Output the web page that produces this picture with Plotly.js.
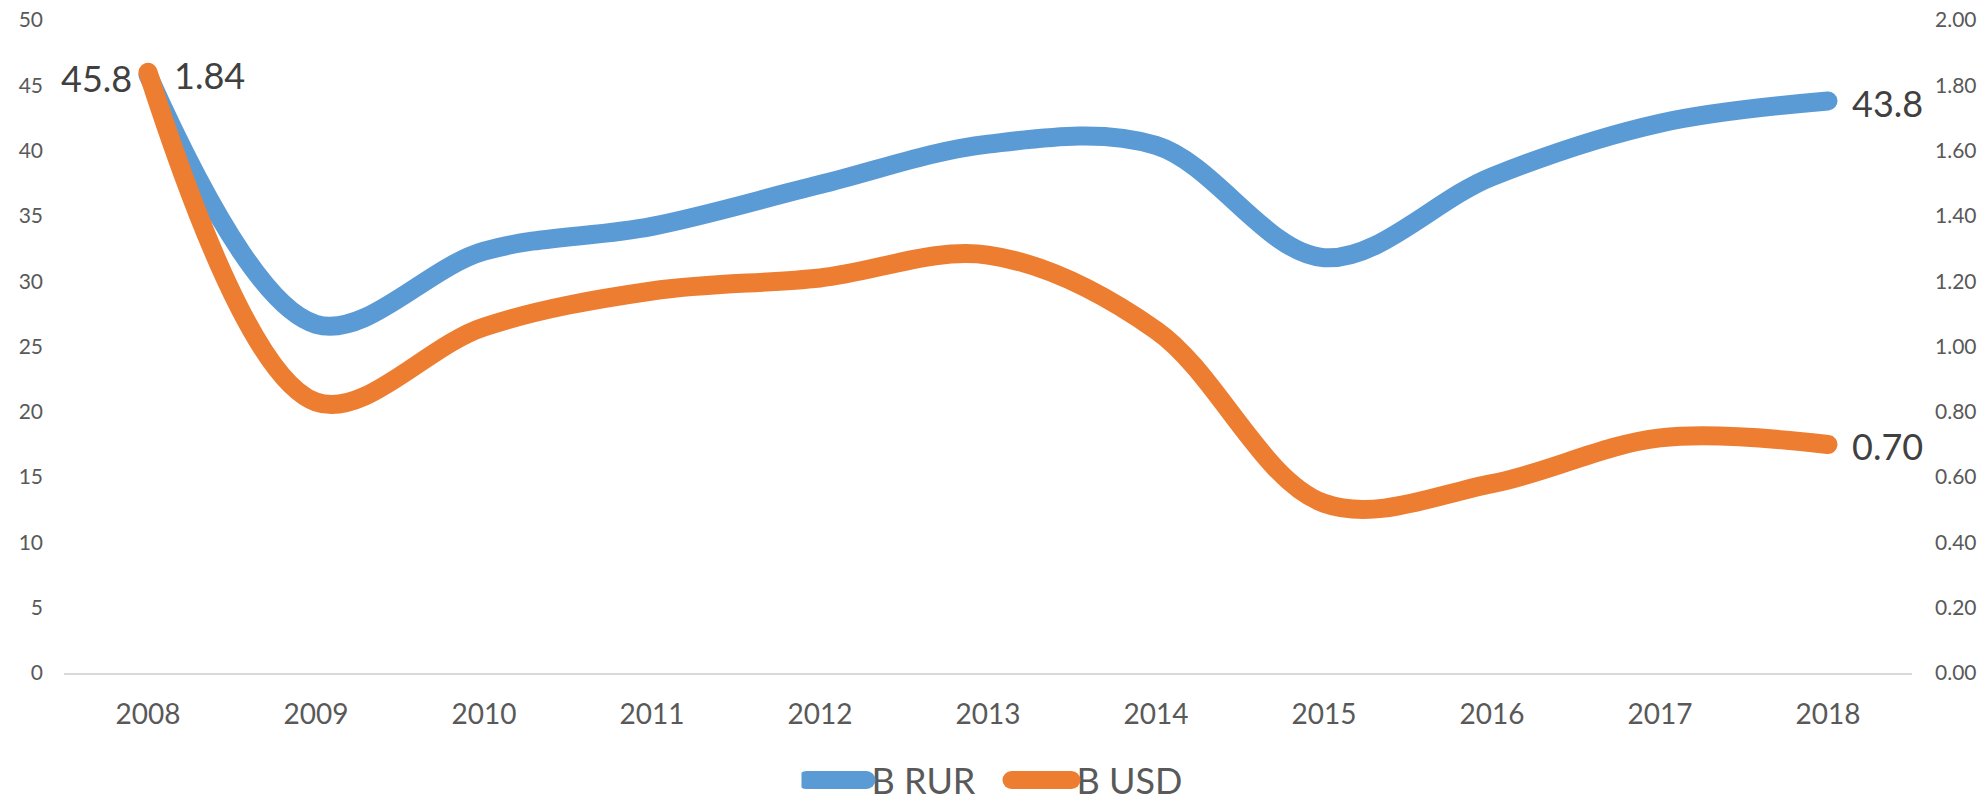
<!DOCTYPE html>
<html>
<head>
<meta charset="utf-8">
<script src="https://cdn.plot.ly/plotly-3.0.1.min.js"></script>
<style>
html,body{margin:0;padding:0;background:#fff;}
#chart{width:1988px;height:801px;}
</style>
</head>
<body>
<div id="chart"></div>
<script>
const years = ['2008','2009','2010','2011','2012','2013','2014','2015','2016','2017','2018'];
const rurValues = [45.8, 26.7, 32.3, 34.2, 37.4, 40.5, 40.4, 31.8, 38.0, 42.1, 43.8];
const usdValues = [1.84, 0.83, 1.06, 1.17, 1.21, 1.28, 1.05, 0.52, 0.58, 0.72, 0.70];
const seriesNames = ['B RUR', 'B USD'];
const leftTicks = [0,5,10,15,20,25,30,35,40,45,50];
const rightTicks = [0,0.2,0.4,0.6,0.8,1.0,1.2,1.4,1.6,1.8,2.0];

const FONT = 'Lato, "Open Sans", sans-serif';
const BLUE = '#5B9BD5';
const ORANGE = '#ED7D31';
const last = years.length - 1;

const traces = [
  {
    x: years, y: rurValues, name: seriesNames[0], type: 'scatter', mode: 'lines',
    line: {color: BLUE, width: 19, shape: 'spline', smoothing: 1},
    yaxis: 'y', hoverinfo: 'skip'
  },
  {
    x: years, y: usdValues, name: seriesNames[1], type: 'scatter', mode: 'lines',
    line: {color: ORANGE, width: 19, shape: 'spline', smoothing: 1},
    yaxis: 'y2', hoverinfo: 'skip'
  }
];

const labelFont = {family: FONT, size: 36, color: '#404040'};
const annotations = [
  {x: 0, y: rurValues[0], xref: 'x', yref: 'y', text: rurValues[0].toFixed(1),
   showarrow: false, xanchor: 'right', yanchor: 'middle', xshift: -14, yshift: -3, font: labelFont},
  {x: 0, y: usdValues[0], xref: 'x', yref: 'y2', text: usdValues[0].toFixed(2),
   showarrow: false, xanchor: 'left', yanchor: 'middle', xshift: 24, yshift: -3, font: labelFont},
  {x: last, y: rurValues[last], xref: 'x', yref: 'y', text: rurValues[last].toFixed(1),
   showarrow: false, xanchor: 'left', yanchor: 'middle', xshift: 22, yshift: -2, font: labelFont},
  {x: last, y: usdValues[last], xref: 'x', yref: 'y2', text: usdValues[last].toFixed(2),
   showarrow: false, xanchor: 'left', yanchor: 'middle', xshift: 22, yshift: -2, font: labelFont}
];

const layout = {
  width: 1988, height: 801,
  margin: {l: 64, r: 76, t: 20, b: 128, autoexpand: false},
  paper_bgcolor: '#fff', plot_bgcolor: '#fff',
  showlegend: true,
  legend: {
    orientation: 'h', x: 0.51, xanchor: 'center', y: -0.164, yanchor: 'middle',
    font: {family: FONT, size: 36, color: '#595959'},
    itemwidth: 60, entrywidth: 130, entrywidthmode: 'pixels',
    traceorder: 'normal', itemclick: false, itemdoubleclick: false
  },
  xaxis: {
    type: 'category', range: [-0.5, 10.5],
    showgrid: false, zeroline: false,
    showline: true, linecolor: '#D9D9D9', linewidth: 1.5,
    ticks: '', ticklabelstandoff: 16,
    tickfont: {family: FONT, size: 28, color: '#595959'},
    fixedrange: true
  },
  yaxis: {
    range: [0, 50], tickvals: leftTicks, ticktext: leftTicks.map(v => String(v)),
    showgrid: false, zeroline: false, showline: false, ticks: '',
    ticklabelstandoff: 20,
    tickfont: {family: FONT, size: 21, color: '#595959'},
    fixedrange: true
  },
  yaxis2: {
    range: [0, 2], overlaying: 'y', side: 'right',
    tickvals: rightTicks, ticktext: rightTicks.map(v => v.toFixed(2)),
    showgrid: false, zeroline: false, showline: false, ticks: '',
    ticklabelstandoff: 22,
    tickfont: {family: FONT, size: 21, color: '#595959'},
    fixedrange: true
  },
  annotations: annotations
};

Plotly.newPlot('chart', traces, layout, {displayModeBar: false, staticPlot: true}).then(function(gd){
  gd.querySelectorAll('.scatterlayer path.js-line').forEach(function(p){
    p.style.strokeLinecap = 'round';
  });
  gd.querySelectorAll('.legend .legendlines path').forEach(function(p){
    p.style.strokeWidth = '18px';
    p.style.strokeLinecap = 'round';
  });
});
</script>
</body>
</html>
